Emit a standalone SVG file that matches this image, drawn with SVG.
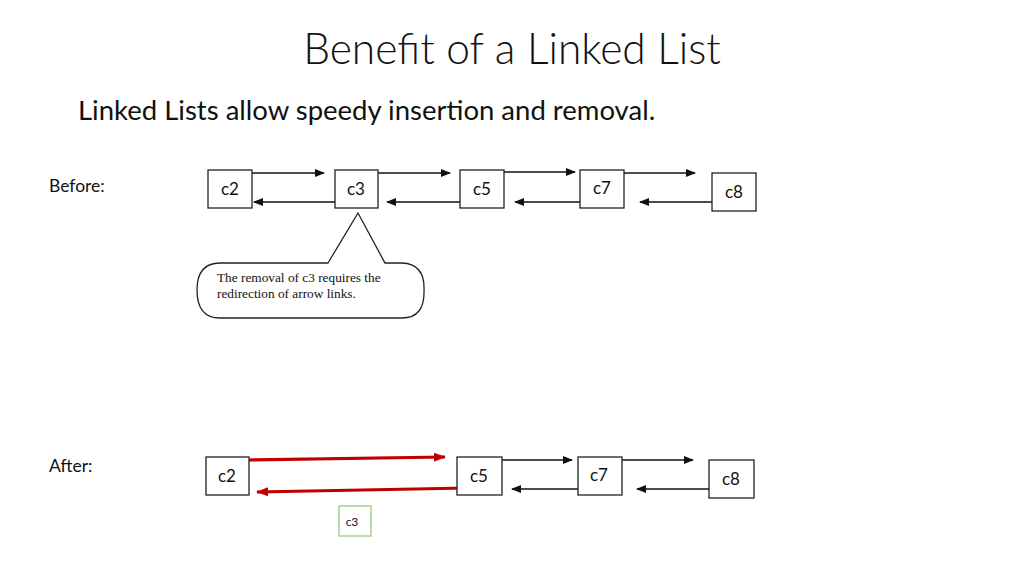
<svg xmlns="http://www.w3.org/2000/svg" width="1024" height="576" viewBox="0 0 1024 576">
<style>
.box{fill:#fff;stroke:#222;stroke-width:1.3}
.lbl{font-family:Lato,"Open Sans","Liberation Sans",sans-serif;font-size:17px;fill:#111;text-anchor:middle}
.ln{stroke:#111;stroke-width:1.3;fill:none;marker-end:url(#ah)}
.red{stroke:#c00000;stroke-width:3.2;fill:none;marker-end:url(#rh)}
.side{font-family:Lato,"Open Sans","Liberation Sans",sans-serif;font-size:17.5px;fill:#111}
</style>
<defs>
<marker id="ah" markerWidth="10" markerHeight="8" refX="9" refY="4" orient="auto" markerUnits="userSpaceOnUse"><path d="M0,0 L10,4 L0,8 Z" fill="#111"/></marker>
<marker id="rh" markerWidth="12" markerHeight="9" refX="11" refY="4.5" orient="auto" markerUnits="userSpaceOnUse"><path d="M0,0 L12,4.5 L0,9 Z" fill="#c00000"/></marker>
</defs>
<rect width="1024" height="576" fill="#fff"/>
<text x="512" y="64" font-family="Lato,'Open Sans','Liberation Sans',sans-serif" font-weight="300" font-size="42.5" fill="#111" text-anchor="middle">Benefit of a Linked List</text>
<text x="78" y="120" font-family="Lato,'Open Sans','Liberation Sans',sans-serif" font-size="27.5" fill="#111">Linked Lists allow speedy insertion and removal.</text>
<text class="side" x="49" y="192">Before:</text>
<text class="side" x="49" y="472">After:</text>

<g id="connectors">
<line class="ln" x1="252" y1="173" x2="324" y2="173"/>
<line class="ln" x1="335" y1="202" x2="254" y2="202"/>
<line class="ln" x1="378" y1="173" x2="450" y2="173"/>
<line class="ln" x1="469" y1="202" x2="387" y2="202"/>
<line class="ln" x1="504" y1="172" x2="575" y2="172"/>
<line class="ln" x1="590" y1="202" x2="515" y2="202"/>
<line class="ln" x1="624" y1="173" x2="695" y2="173"/>
<line class="ln" x1="726" y1="202" x2="640" y2="202"/>

<line class="red" x1="247" y1="460" x2="445" y2="457"/>
<line class="red" x1="467" y1="488" x2="257" y2="492"/>
<line class="ln" x1="498" y1="460" x2="572" y2="460"/>
<line class="ln" x1="587" y1="489" x2="512" y2="489"/>
<line class="ln" x1="622" y1="460" x2="693" y2="460"/>
<line class="ln" x1="723" y1="489" x2="637" y2="489"/>
</g>

<g id="b-c2"><rect class="box" x="208" y="170" width="44" height="38"/><text class="lbl" x="230" y="195">c2</text></g>
<g id="b-c3"><rect class="box" x="335" y="170" width="43" height="38"/><text class="lbl" x="356" y="195">c3</text></g>
<g id="b-c5"><rect class="box" x="460" y="170" width="44" height="38"/><text class="lbl" x="482" y="195">c5</text></g>
<g id="b-c7"><rect class="box" x="580" y="170" width="44" height="38"/><text class="lbl" x="602" y="194">c7</text></g>
<g id="b-c8"><rect class="box" x="712" y="173" width="44" height="38"/><text class="lbl" x="734" y="198">c8</text></g>

<g id="callout">
<path d="M328,263 L358,213 L385,263 L402,263 Q425,264 424,290 Q425,318 402,318 L220,318 Q197,318 197,290 Q197,263 220,263 Z" fill="#fff" stroke="#222" stroke-width="1.3"/>
<text font-family="'Liberation Serif',serif" font-size="13.3" fill="#111"><tspan x="217" y="282">The removal of c3 requires the</tspan><tspan x="217" y="298">redirection of arrow links.</tspan></text>
</g>

<g id="a-c2"><rect class="box" x="206" y="457" width="43" height="38"/><text class="lbl" x="227" y="482">c2</text></g>
<g id="a-c5"><rect class="box" x="457" y="457" width="45" height="38"/><text class="lbl" x="479" y="482">c5</text></g>
<g id="a-c7"><rect class="box" x="578" y="457" width="44" height="38"/><text class="lbl" x="599" y="481">c7</text></g>
<g id="a-c8"><rect class="box" x="709" y="460" width="45" height="38"/><text class="lbl" x="731" y="485">c8</text></g>
<g id="a-c3"><rect x="339" y="506" width="32" height="30" fill="#fff" stroke="#a9d18e" stroke-width="1.5"/><text x="352" y="526" font-family="Lato,'Open Sans','Liberation Sans',sans-serif" font-size="12" fill="#111" text-anchor="middle">c3</text></g>
</svg>
